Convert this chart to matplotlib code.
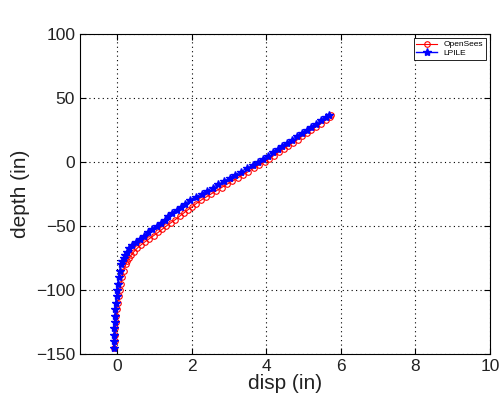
import matplotlib
matplotlib.use("Agg")
import matplotlib.pyplot as plt

# ── データ ──────────────────────────────────────────────
depth = [-145, -140, -135, -130, -125, -120, -115, -110, -105, -100,
         -95, -90, -85, -80, -77.5, -75, -72.5, -70, -67.5, -65,
         -62.5, -60, -57.5, -55, -52.5, -50, -47.5, -45, -42.5, -40,
         -37.5, -35, -32.5, -30, -27.5, -25, -22.5, -20, -17.5, -15,
         -12.5, -10, -7.5, -5, -2.5, 0, 2.5, 5, 7.5, 10,
         12.5, 15, 17.5, 20, 22.5, 25, 27.5, 30, 32.5, 35, 36.5]
disp_lpile = [-0.10, -0.09, -0.08, -0.075, -0.07, -0.06, -0.05, -0.04, -0.02, 0.00,
              0.02, 0.04, 0.07, 0.11, 0.14, 0.17, 0.21, 0.26, 0.32, 0.40,
              0.49, 0.60, 0.71, 0.82, 0.94, 1.06, 1.17, 1.27, 1.37, 1.47,
              1.59, 1.71, 1.83, 1.95, 2.10, 2.26, 2.41, 2.56, 2.71, 2.87,
              3.02, 3.17, 3.32, 3.48, 3.63, 3.78, 3.91, 4.04, 4.17, 4.30,
              4.43, 4.56, 4.69, 4.82, 4.95, 5.08, 5.21, 5.34, 5.47, 5.60, 5.68]
disp_opensees = [-0.08, -0.07, -0.06, -0.05, -0.04, -0.03, -0.01, 0.01, 0.04, 0.07,
                 0.10, 0.13, 0.17, 0.23, 0.27, 0.32, 0.38, 0.45, 0.53, 0.63,
                 0.74, 0.86, 0.98, 1.10, 1.21, 1.32, 1.44, 1.56, 1.67, 1.78,
                 1.89, 2.01, 2.12, 2.24, 2.38, 2.52, 2.66, 2.80, 2.94, 3.08,
                 3.23, 3.37, 3.52, 3.66, 3.80, 3.95, 4.08, 4.20, 4.33, 4.46,
                 4.58, 4.71, 4.84, 4.96, 5.09, 5.21, 5.34, 5.47, 5.59, 5.70, 5.74]

x_ticks = [0, 2, 4, 6, 8, 10]
y_ticks = [-150, -100, -50, 0, 50, 100]

plt.rcParams["font.family"] = ["Liberation Sans", "DejaVu Sans"]

fig = plt.figure(figsize=(5, 4.04), dpi=100)
ax = fig.add_axes([0.16, 0.124, 0.82, 0.792])

ax.plot(disp_opensees, depth, color="red", marker="o", mfc="none",
        ms=4, mew=0.8, lw=0.8, label="OpenSees")
ax.plot(disp_lpile, depth, color="blue", marker="*", ms=6, lw=1.0,
        label="LPILE")

ax.set_xlim(-1, 10)
ax.set_ylim(-150, 100)
ax.set_xticks(x_ticks)
ax.set_yticks(y_ticks)
ax.grid(True, color="black", linestyle=(0, (1, 3)), linewidth=0.8)
ax.tick_params(direction="in", top=True, right=True, labelsize=12.5,
               length=4, labelcolor="#222222")
ax.set_xlabel("disp (in)", fontsize=15, labelpad=0, color="#222222")
ax.set_ylabel("depth (in)", fontsize=15, labelpad=4, color="#222222")

leg = ax.legend(loc="upper right", fontsize=6, fancybox=False,
                edgecolor="black", framealpha=1, borderpad=0.3,
                handlelength=2.5, labelspacing=0.1)
leg.get_frame().set_linewidth(0.6)

fig.savefig("out.png", dpi=100)
